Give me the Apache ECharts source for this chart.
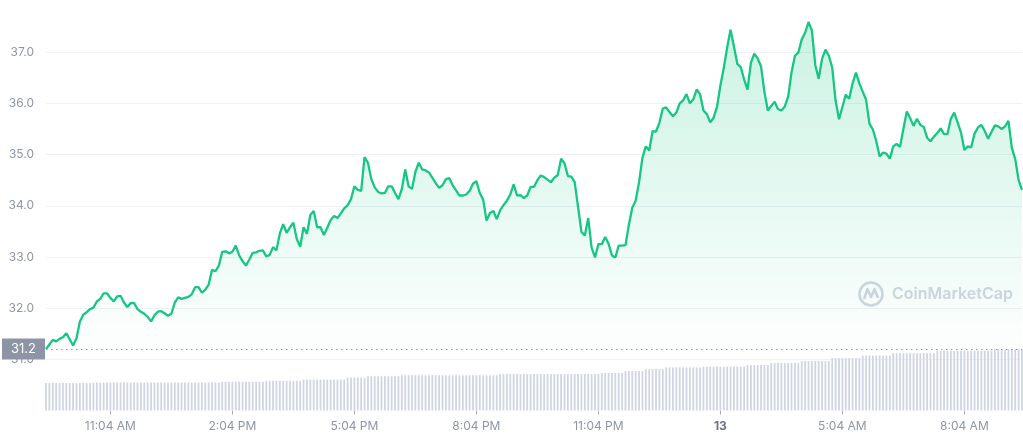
<!DOCTYPE html>
<html>
<head>
<meta charset="utf-8">
<script src="https://cdn.jsdelivr.net/npm/echarts@6/dist/echarts.min.js"></script>
<style>
  html, body { margin: 0; padding: 0; background: #fff; }
  #chart { width: 1023px; height: 440px; }
</style>
</head>
<body>
<div id="chart"></div>
<script>
// 5-minute samples, starting 9:29 AM on the 12th
const stepMinutes = 5
const prices = [
  31.20, 31.29, 31.38, 31.35, 31.40, 31.43, 31.51, 31.39, 31.27, 31.41,
  31.74, 31.87, 31.92, 31.98, 32.01, 32.13, 32.18, 32.29, 32.29, 32.20,
  32.13, 32.23, 32.24, 32.11, 32.02, 32.10, 32.10, 31.98, 31.93, 31.89,
  31.83, 31.74, 31.86, 31.93, 31.94, 31.90, 31.85, 31.89, 32.11, 32.21,
  32.18, 32.20, 32.22, 32.27, 32.41, 32.41, 32.30, 32.36, 32.46, 32.75,
  32.72, 32.83, 33.10, 33.11, 33.07, 33.10, 33.22, 33.03, 32.92, 32.83,
  32.95, 33.08, 33.09, 33.12, 33.13, 33.01, 33.04, 33.19, 33.13, 33.46,
  33.64, 33.47, 33.58, 33.67, 33.35, 33.20, 33.58, 33.45, 33.82, 33.90,
  33.58, 33.58, 33.43, 33.57, 33.72, 33.80, 33.76, 33.85, 33.95, 34.01,
  34.13, 34.38, 34.31, 34.29, 34.95, 34.84, 34.52, 34.36, 34.27, 34.24,
  34.25, 34.38, 34.38, 34.25, 34.13, 34.33, 34.71, 34.38, 34.33, 34.66,
  34.84, 34.71, 34.69, 34.65, 34.55, 34.44, 34.35, 34.40, 34.52, 34.54,
  34.40, 34.30, 34.20, 34.20, 34.22, 34.29, 34.43, 34.48, 34.25, 34.12,
  33.71, 33.86, 33.90, 33.74, 33.91, 34.01, 34.10, 34.22, 34.42, 34.20,
  34.21, 34.15, 34.20, 34.37, 34.37, 34.50, 34.59, 34.56, 34.51, 34.46,
  34.55, 34.60, 34.92, 34.83, 34.58, 34.57, 34.46, 33.98, 33.49, 33.42,
  33.76, 33.18, 32.99, 33.25, 33.25, 33.39, 33.26, 33.03, 32.99, 33.22,
  33.22, 33.23, 33.63, 33.96, 34.10, 34.46, 34.94, 35.16, 35.08, 35.46,
  35.45, 35.62, 35.90, 35.92, 35.83, 35.75, 35.82, 36.00, 36.06, 36.18,
  36.00, 36.08, 36.27, 36.18, 35.86, 35.79, 35.63, 35.72, 35.93, 36.35,
  36.69, 37.09, 37.44, 37.11, 36.77, 36.71, 36.47, 36.27, 36.79, 36.97,
  36.88, 36.72, 36.22, 35.86, 35.95, 36.03, 35.89, 35.86, 35.94, 36.13,
  36.61, 36.93, 36.99, 37.25, 37.38, 37.59, 37.42, 36.75, 36.48, 36.87,
  37.05, 36.93, 36.70, 36.05, 35.69, 35.93, 36.17, 36.09, 36.39, 36.60,
  36.39, 36.23, 36.07, 35.60, 35.49, 35.26, 34.96, 35.04, 35.02, 34.92,
  35.16, 35.21, 35.15, 35.50, 35.84, 35.71, 35.56, 35.70, 35.58, 35.54,
  35.33, 35.26, 35.35, 35.42, 35.51, 35.40, 35.40, 35.70, 35.82, 35.63,
  35.43, 35.09, 35.16, 35.14, 35.41, 35.53, 35.58, 35.46, 35.31, 35.44,
  35.57, 35.55, 35.50, 35.55, 35.66, 35.13, 34.91, 34.50, 34.31
]

// volume bars come in flat runs: level and number of bars at that level
const volumeLevels = [2.75, 2.80, 2.88, 2.97, 3.10, 3.30, 3.43, 3.53, 3.65, 3.77, 3.95,
  4.15, 4.32, 4.40, 4.55, 4.75, 4.95, 5.25, 5.50, 5.75, 5.98, 6.15]
const volumeCounts = [14, 38, 13, 11, 13, 6, 10, 29, 30, 7, 6,
  6, 11, 13, 7, 9, 9, 9, 9, 13, 17, 9]

const openPrice = 31.2
const tickMinutes = [95, 275, 455, 635, 815, 995, 1175, 1355]
const tickLabels = ['11:04 AM', '2:04 PM', '5:04 PM', '8:04 PM', '11:04 PM', '13', '5:04 AM', '8:04 AM']

const colors = {
  green: '#16c784',
  label: '#8e95a8',
  grid: '#eff1f5',
  bar: '#d0d5e4',
  marker: '#8d94a6',
  watermark: '#d2d5e1'
}

const volumes = []
volumeLevels.forEach((v, k) => {
  for (let n = 0; n < volumeCounts[k]; n++) volumes.push(v)
})

const priceData = prices.map((p, i) => [i * stepMinutes, p])
const volumeData = volumes.map((v, i) => [i * stepMinutes, v])

const chart = echarts.init(document.getElementById('chart'), null, { renderer: 'canvas' })

chart.setOption({
  animation: false,
  textStyle: { fontFamily: 'Inter, "Noto Sans", sans-serif' },
  grid: { left: 46, right: 1, top: 1, bottom: 29.5 },
  xAxis: {
    type: 'value',
    min: 0,
    max: 1440,
    axisLine: { show: false },
    splitLine: { show: false },
    axisTick: {
      show: true,
      customValues: tickMinutes,
      length: 4,
      lineStyle: { color: '#a5abbd' }
    },
    axisLabel: {
      customValues: tickMinutes,
      margin: 10,
      fontSize: 12,
      color: colors.label,
      formatter: v => {
        const t = tickLabels[tickMinutes.indexOf(v)]
        return t === '13' ? '{day|13}' : t
      },
      rich: {
        day: { fontWeight: 'bold', fontSize: 12, color: '#6c7387' }
      }
    }
  },
  yAxis: [
    {
      type: 'value',
      min: 30,
      max: 38,
      interval: 1,
      axisLine: { show: false },
      axisTick: { show: false },
      splitLine: {
        // no lines at the hidden 30 and 38 ends
        lineStyle: {
          color: ['rgba(0,0,0,0)', colors.grid, colors.grid, colors.grid, colors.grid,
            colors.grid, colors.grid, colors.grid, 'rgba(0,0,0,0)'],
          width: 1
        }
      },
      axisLabel: {
        margin: 12,
        fontSize: 12,
        color: colors.label,
        showMinLabel: false,
        showMaxLabel: false,
        formatter: v => v.toFixed(1)
      }
    },
    {
      type: 'value',
      min: 0,
      max: 41.05,
      show: false,
      splitLine: { show: false }
    }
  ],
  graphic: [
    {
      type: 'circle',
      shape: { cx: 871, cy: 294, r: 11.5 },
      style: { fill: 'none', stroke: colors.watermark, lineWidth: 2.6 },
      z: 1
    },
    {
      type: 'polyline',
      shape: { points: [[864, 299], [867.5, 289], [871, 297], [874.5, 289], [878, 298]] },
      style: { fill: 'none', stroke: colors.watermark, lineWidth: 2.6, lineJoin: 'round' },
      z: 1
    },
    {
      type: 'text',
      left: 892,
      top: 286,
      style: {
        text: 'CoinMarketCap',
        fill: colors.watermark,
        font: '600 16px Inter, "Noto Sans", sans-serif'
      },
      z: 1
    }
  ],
  series: [
    {
      type: 'bar',
      yAxisIndex: 1,
      data: volumeData,
      barWidth: 1.8,
      itemStyle: { color: colors.bar },
      silent: true
    },
    {
      type: 'line',
      data: priceData,
      symbol: 'none',
      lineStyle: { color: colors.green, width: 2.3 },
      areaStyle: {
        origin: openPrice,
        color: new echarts.graphic.LinearGradient(0, 0, 0, 1, [
          { offset: 0, color: 'rgba(22, 199, 132, 0.32)' },
          { offset: 1, color: 'rgba(22, 199, 132, 0.01)' }
        ])
      },
      markLine: {
        silent: true,
        symbol: ['none', 'none'],
        lineStyle: { color: colors.marker, type: [1.5, 3.5], width: 1 },
        label: {
          position: 'start',
          distance: 1,
          formatter: '31.2',
          color: '#fff',
          fontSize: 13,
          backgroundColor: colors.marker,
          padding: [4, 9]
        },
        data: [{ yAxis: openPrice }]
      },
      z: 3
    }
  ]
})
</script>
</body>
</html>
